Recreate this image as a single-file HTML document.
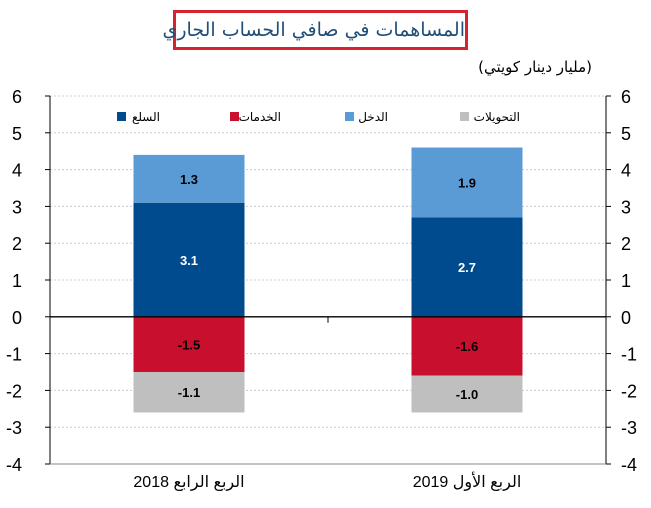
<!DOCTYPE html>
<html><head><meta charset="utf-8"><style>
body{margin:0;background:#fff;width:651px;height:503px;overflow:hidden;position:relative}
svg text{font-family:"Liberation Sans","DejaVu Sans",sans-serif}
.t{position:absolute;font-family:"DejaVu Sans",sans-serif;white-space:nowrap}
</style></head><body>
<div class="t" dir="rtl" style="left:173px;top:10px;width:295px;height:40px;box-sizing:border-box;border:3px solid #d5232f;text-align:center;font-size:19px;line-height:34px;color:#1f4e79">المساهمات في صافي الحساب الجاري</div>
<div class="t" dir="rtl" style="right:59px;top:58px;font-size:15px;color:#000">(مليار دينار كويتي)</div>
<svg width="651" height="503" id="c">
<g id="grid"></g><g id="bars"></g><g id="axes"></g>
<g font-size="12" font-family="DejaVu Sans">
<rect x="117" y="112" width="9" height="9" fill="#004b8d"/>
<text x="160" y="121" text-anchor="end">السلع</text>
<rect x="230" y="112" width="9" height="9" fill="#c8102e"/>
<text x="281" y="121" text-anchor="end">الخدمات</text>
<rect x="345" y="112" width="9" height="9" fill="#5b9bd5"/>
<text x="388" y="121" text-anchor="end">الدخل</text>
<rect x="460" y="112" width="9" height="9" fill="#bfbfbf"/>
<text x="520" y="121" text-anchor="end">التحويلات</text>
</g>
</svg>
<script>
const categories=["الربع الرابع 2018","الربع الأول 2019"];
const goods=[3.1,2.7];
const income=[1.3,1.9];
const services=[-1.5,-1.6];
const transfers=[-1.1,-1.0];
const ticks=[6,5,4,3,2,1,0,-1,-2,-3,-4];
const NS="http://www.w3.org/2000/svg";
const L=50,R=606,T=96,B=464,ymax=6,ymin=-4;
const y=v=>T+(ymax-v)*(B-T)/(ymax-ymin);
const xc=i=>L+(R-L)*(i+0.5)/categories.length;
const bw=111;
function mk(p,tag,a){const e=document.createElementNS(NS,tag);for(const k in a)e.setAttribute(k,a[k]);document.getElementById(p).appendChild(e);return e;}
ticks.forEach(t=>{
 if(t!==0&&t!==ymin){const g=mk('grid','line',{x1:L,x2:R,y1:y(t),y2:y(t),stroke:'#ccc','stroke-dasharray':'2,2'});
 
 }
 const a=mk('axes','text',{x:22,y:y(t)+7,'text-anchor':'end','font-size':'18'});a.textContent=t;
 
 
 const b=mk('axes','text',{x:621,y:y(t)+7,'font-size':'18'});b.textContent=t;
 
 
 mk('axes','line',{x1:L-5,x2:L,y1:y(t),y2:y(t),stroke:'#000'});
 mk('axes','line',{x1:R,x2:R+5,y1:y(t),y2:y(t),stroke:'#000'});
});
const series=[[goods,'#004b8d','#fff','goods'],[income,'#5b9bd5','#000','income'],[services,'#c8102e','#000','services'],[transfers,'#bfbfbf','#000','transfers']];
categories.forEach((c,i)=>{
 let pos=0,neg=0;
 series.forEach(([arr,col,tc,nm])=>{
  const v=arr[i];let a,b;
  if(v>=0){a=pos;b=pos+v;pos=b;}else{a=neg;b=neg+v;neg=b;}
  const r=mk('bars','rect',{x:xc(i)-bw/2,y:Math.min(y(a),y(b)),width:bw,height:Math.abs(y(a)-y(b)),fill:col});
  
  
  const t=mk('bars','text',{x:xc(i),y:(y(a)+y(b))/2+5,'text-anchor':'middle','font-size':'13','font-weight':'bold',fill:tc});
  t.textContent=v.toFixed(1);
  
  
 });
 const cl=mk('axes','text',{x:xc(i),y:487,'text-anchor':'middle','font-size':'16','font-family':'DejaVu Sans'});
 cl.textContent=c;
 
 
});
mk('axes','line',{x1:L,x2:L,y1:T,y2:B,stroke:'#000'});
mk('axes','line',{x1:R,x2:R,y1:T,y2:B,stroke:'#000'});
mk('axes','line',{x1:L,x2:R,y1:y(0),y2:y(0),stroke:'#000','stroke-width':1.3});
mk('axes','line',{x1:L,x2:R,y1:B,y2:B,stroke:'#888'});
mk('axes','line',{x1:328,x2:328,y1:y(0),y2:y(0)+6,stroke:'#000'});
</script>
</body></html>
